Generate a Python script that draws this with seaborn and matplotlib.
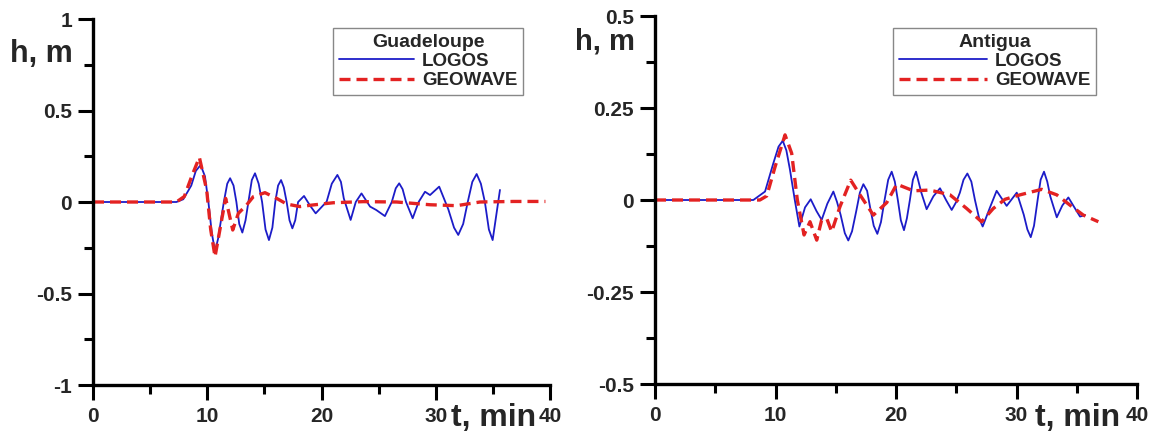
import numpy as np
import pandas as pd
import matplotlib
matplotlib.use("Agg")
import matplotlib.pyplot as plt
import seaborn as sns
from matplotlib.ticker import MultipleLocator
from matplotlib.lines import Line2D

# Guadeloupe - LOGOS
t_gua_logos = [0, 7.3, 7.9, 8.6, 9.0, 9.42, 9.8, 10.1, 10.4, 10.68, 10.95, 11.45, 11.75, 12.0, 12.3, 12.55,
               12.8, 13.07, 13.35, 13.6, 13.9, 14.18, 14.5, 14.8, 15.1, 15.4, 15.7, 15.95, 16.2, 16.46,
               16.7, 16.95, 17.2, 17.45, 17.7, 17.95, 18.47, 19.0, 19.49, 20.45, 20.9, 21.39, 21.7,
               21.95, 22.55, 23.0, 23.5, 24.25, 24.8, 25.55, 26.15, 26.5, 26.8, 27.1, 27.4, 27.98,
               28.5, 29.06, 29.5, 30.3, 31.1, 31.6, 31.97, 32.4, 32.8, 33.2, 33.58, 33.95, 34.3, 34.65,
               34.98, 35.62]
h_gua_logos = [0, 0, 0.015, 0.09, 0.17, 0.202, 0.14, 0, -0.17, -0.27, -0.2, 0, 0.1, 0.13, 0.09, 0,
               -0.12, -0.167, -0.1, 0, 0.12, 0.157, 0.1, 0, -0.15, -0.208, -0.14, 0, 0.09, 0.12,
               0.08, 0, -0.1, -0.144, -0.1, 0, 0.033, -0.02, -0.062, 0.002, 0.1, 0.148, 0.11,
               0.02, -0.098, 0, 0.047, -0.025, -0.044, -0.077, 0, 0.075, 0.102, 0.07, 0, -0.089,
               0, 0.056, 0.038, 0.084, -0.04, -0.14, -0.18, -0.12, 0, 0.11, 0.153, 0.1, 0, -0.15,
               -0.208, 0.066]

# Guadeloupe - GEOWAVE
t_gua_geo = [0, 7.3, 7.99, 8.7, 9.31, 9.95, 10.3, 10.68, 11.26, 11.61, 12.23, 12.72, 13.45, 14.03,
             15.05, 16.07, 16.95, 18.1, 19.28, 21.03, 23.66, 26.58, 29.5, 31.83, 33.87, 36.8, 39.6]
h_gua_geo = [0, 0, 0.03, 0.15, 0.244, 0.065, -0.15, -0.299, -0.098, 0.02, -0.153, -0.062, -0.016, 0.029,
             0.051, 0.02, -0.011, -0.025, -0.016, -0.004, 0.002, 0, -0.015, -0.02, 0, 0.003, 0.003]

# Antigua - LOGOS
t_ant_logos = [0, 8.16, 9.13, 9.82, 10.25, 10.6, 10.9, 11.2, 11.6, 11.98, 12.45, 12.92, 13.4, 13.83,
               14.3, 14.8, 15.1, 15.4, 15.75, 16.04, 16.35, 16.7, 17.0, 17.29, 17.6, 17.85, 18.15,
               18.45, 18.75, 19.05, 19.35, 19.64, 19.9, 20.15, 20.4, 20.66, 20.9, 21.15, 21.4, 21.66,
               22.1, 22.54, 23.1, 23.65, 24.15, 24.62, 25.0, 25.3, 25.6, 25.92, 26.25, 26.55, 26.9,
               27.19, 27.8, 28.35, 29.18, 30.02, 30.6, 30.9, 31.18, 31.45, 31.75, 32.0, 32.28, 32.55,
               32.8, 33.34, 33.8, 34.3, 34.8, 35.27, 35.68]
h_ant_logos = [0, 0, 0.023, 0.1, 0.145, 0.161, 0.135, 0.082, 0.0, -0.072, -0.02, 0.002, -0.03, -0.054,
               -0.01, 0.023, -0.005, -0.04, -0.09, -0.11, -0.085, -0.03, 0.02, 0.043, 0.025, -0.02,
               -0.07, -0.092, -0.06, 0, 0.055, 0.077, 0.05, 0, -0.055, -0.082, -0.05, 0, 0.055, 0.077,
               0.02, -0.025, 0.01, 0.032, 0.0, -0.027, -0.005, 0.02, 0.055, 0.072, 0.05, 0, -0.05,
               -0.072, -0.02, 0.025, -0.016, 0.02, -0.04, -0.08, -0.101, -0.07, 0, 0.055, 0.077, 0.05,
               0.01, -0.047, -0.015, 0.007, -0.02, -0.045, -0.041]

# Antigua - GEOWAVE
t_ant_geo = [0, 8.7, 9.27, 9.96, 10.79, 11.34, 11.81, 12.37, 12.86, 13.42, 13.83, 14.25, 14.66, 15.35,
             16.24, 17.01, 18.12, 19.23, 20.06, 21.44, 22.8, 24.48, 25.86, 27.1, 28.07, 29.05, 30.29,
             32.09, 33.34, 34.44, 35.54, 36.79]
h_ant_geo = [0, 0, 0.011, 0.09, 0.177, 0.127, 0, -0.095, -0.059, -0.109, -0.054, -0.05, -0.086, -0.018,
             0.054, 0.014, -0.041, -0.007, 0.043, 0.025, 0.027, 0.014, -0.023, -0.059, -0.023, 0.002, 0.014,
             0.029, 0.014, -0.014, -0.041, -0.059]

blue = "#1c1cc8"
red = "#e32222"

sns.set_style("ticks")
plt.rcParams['font.family'] = ['Liberation Sans', 'DejaVu Sans']
plt.rcParams['font.weight'] = 'bold'
plt.rcParams['lines.solid_joinstyle'] = 'round'


def long_df(t1, h1, t2, h2):
    a = pd.DataFrame({"t": t1, "h": h1, "model": "LOGOS"})
    b = pd.DataFrame({"t": t2, "h": h2, "model": "GEOWAVE"})
    return pd.concat([a, b], ignore_index=True)


fig = plt.figure(figsize=(11.54, 4.34), dpi=100)
ax1 = fig.add_axes([0.0806, 0.1129, 0.396, 0.8433])
ax2 = fig.add_axes([0.5676, 0.1152, 0.4177, 0.8479])

panels = [
    (ax1, long_df(t_gua_logos, h_gua_logos, t_gua_geo, h_gua_geo), "Guadeloupe", 1.0, 0.25,
     ["-1", "-0.5", "0", "0.5", "1"], (0.2886, 0.9355), 4.0),
    (ax2, long_df(t_ant_logos, h_ant_logos, t_ant_geo, h_ant_geo), "Antigua", 0.5, 0.125,
     ["-0.5", "-0.25", "0", "0.25", "0.5"], (0.7738, 0.9355), 4.7),
]

for ax, df, name, ylim, ymin, ylabels, legpos, hlen in panels:
    sns.lineplot(data=df, x="t", y="h", hue="model", style="model", size="model",
                 palette={"LOGOS": blue, "GEOWAVE": red},
                 dashes={"LOGOS": "", "GEOWAVE": (3.3, 1.8)},
                 sizes={"LOGOS": 1.3, "GEOWAVE": 2.4},
                 estimator=None, sort=False, legend=False, ax=ax)
    ax.set_xlim(0, 40)
    ax.set_ylim(-ylim, ylim)
    ax.xaxis.set_minor_locator(MultipleLocator(5))
    ax.yaxis.set_minor_locator(MultipleLocator(ymin))
    ax.set_yticks(np.linspace(-ylim, ylim, 5))
    ax.set_yticklabels(ylabels)
    ax.set_xticks([0, 10, 20, 30, 40])
    ax.set_xticklabels(["0", "10", "20", "30", "40"])
    ax.set_xlabel("")
    ax.set_ylabel("")
    sns.despine(ax=ax)
    for s in ["left", "bottom"]:
        ax.spines[s].set_linewidth(2.4)
        ax.spines[s].set_color("black")
    ax.tick_params(which="major", length=11, width=2.2, direction="out", color="black",
                   labelsize=15, pad=4)
    ax.tick_params(which="minor", length=6.5, width=2.2, direction="out", color="black")
    ax.tick_params(axis="x", which="major", pad=5)
    for lab in ax.get_xticklabels() + ax.get_yticklabels():
        lab.set_fontweight("bold")
    handles = [Line2D([], [], color=blue, lw=1.3),
               Line2D([], [], color=red, lw=2.4, dashes=(3.3, 1.8))]
    leg = fig.legend(handles, ["LOGOS", "GEOWAVE"], title=name, loc="upper left",
                     bbox_to_anchor=legpos, bbox_transform=fig.transFigure,
                     fancybox=False, framealpha=1, edgecolor="#888888",
                     handlelength=hlen, handletextpad=0.45, borderpad=0.3, borderaxespad=0,
                     labelspacing=0.12, prop={"weight": "bold", "size": 13.5},
                     title_fontproperties={"weight": "bold", "size": 14})
    leg.get_frame().set_linewidth(1.0)

fig.text(10 / 1154, 1 - 62 / 434, "h, m", fontsize=22, fontweight="bold", va="baseline")
fig.text(575 / 1154, 1 - 49 / 434, "h, m", fontsize=21, fontweight="bold", va="baseline")
fig.text(451 / 1154, 1 - 426 / 434, "t, min", fontsize=23, fontweight="bold", va="baseline")
fig.text(1035 / 1154, 1 - 426 / 434, "t, min", fontsize=23, fontweight="bold", va="baseline")

plt.savefig("out.png", dpi=100)
